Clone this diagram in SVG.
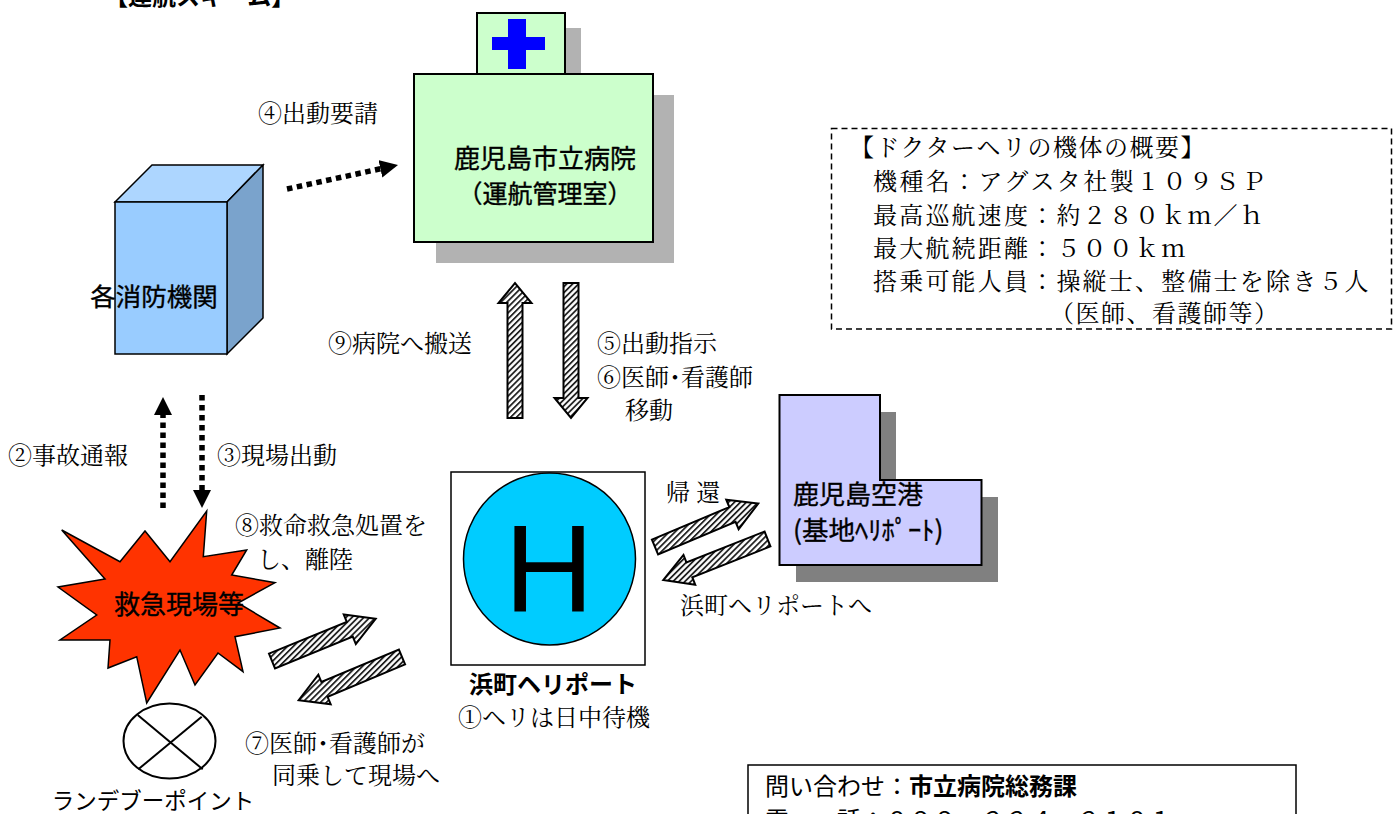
<svg xmlns="http://www.w3.org/2000/svg" width="1399" height="814" viewBox="0 0 1399 814">
  <style>
    .min { font-family: "Noto Serif CJK JP", "IPAMincho", "Noto Sans CJK JP", serif; font-size: 24px; fill: #000; }
    .goth { font-family: "Noto Sans CJK JP", "Noto Sans", sans-serif; fill: #000; }
    .bold { font-weight: 700; }
    .med { stroke: #000; stroke-width: 0.35; }
    .edge { stroke: #000; stroke-width: 2; }
    .thin { stroke: #000; stroke-width: 1.5; }
    .dots { fill: none; stroke: #000; stroke-width: 5.5; stroke-dasharray: 5.5 4.5; }
    .hatch { fill: url(#hatch); stroke: #000; stroke-width: 2; stroke-linejoin: miter; }
  </style>
  <defs>
    <pattern id="hatch" patternUnits="userSpaceOnUse" width="4.2" height="4.2" patternTransform="rotate(45)">
      <rect width="4.2" height="4.2" fill="#fff"/>
      <rect width="1.8" height="4.2" fill="#222"/>
    </pattern>
    <marker id="dotHead" markerUnits="userSpaceOnUse" markerWidth="18" markerHeight="18" refX="0" refY="9" orient="auto">
      <path d="M0,0 L18,9 L0,18 Z" fill="#000"/>
    </marker>
  </defs>

  <rect width="1399" height="814" fill="#fff"/>

  <!-- page title, clipped by the top edge -->
  <text class="goth bold" x="104" y="5" font-size="24">【運航スキーム】</text>

  <!-- hospital (operations office) -->
  <g id="hospital">
    <rect x="492" y="28" width="89" height="61" fill="#B2B2B2"/>
    <rect x="436" y="95" width="238" height="168" fill="#B2B2B2"/>
    <rect x="477" y="13" width="88" height="61" fill="#CCFFCC" class="edge"/>
    <rect x="508" y="19" width="18" height="50" fill="#0000FF"/>
    <rect x="492" y="37" width="53" height="13" fill="#0000FF"/>
    <rect x="414" y="74" width="239" height="168" fill="#CCFFCC" class="edge"/>
    <text class="goth med" x="545" y="168" font-size="26" text-anchor="middle">鹿児島市立病院</text>
    <text class="goth med" x="545" y="203" font-size="25" text-anchor="middle">（運航管理室）</text>
  </g>

  <!-- fire departments -->
  <g id="fire-dept">
    <polygon points="115,202 152,165 263,165 227,202" fill="#ADD6FF" class="thin"/>
    <polygon points="227,202 263,165 263,318 227,354" fill="#7AA3CC" class="thin"/>
    <rect x="115" y="202" width="112" height="152" fill="#99CCFF" class="thin"/>
    <text class="goth med" x="154" y="306" font-size="25.5" text-anchor="middle">各消防機関</text>
  </g>

  <!-- aircraft spec box -->
  <g id="spec-box">
    <rect x="831.5" y="128.5" width="560" height="200.5" fill="none" stroke="#000" stroke-width="1.5" stroke-dasharray="6 4"/>
    <text class="min" x="850" y="156" letter-spacing="1.5">【ドクターヘリの機体の概要】</text>
    <text class="min" x="873" y="190" letter-spacing="2.4">機種名：アグスタ社製１０９ＳＰ</text>
    <text class="min" x="873" y="224" letter-spacing="2.2">最高巡航速度：約２８０ｋｍ／ｈ</text>
    <text class="min" x="873" y="257" letter-spacing="2.2">最大航続距離：５００ｋｍ</text>
    <text class="min" x="873" y="290" letter-spacing="2.2">搭乗可能人員：操縦士、整備士を除き５人</text>
    <text class="min" x="1050" y="322" letter-spacing="1.5">（医師、看護師等）</text>
  </g>

  <!-- emergency site -->
  <g id="scene">
    <polygon points="206.7,511 203.3,556.7 246.7,550 231.7,575 275,582.7 238,603 280,628 235,636.7 243,671.7 218,653 195,685 180,650 146.7,703 136.7,656.7 108,668 110,640 60,640 96.7,615 58,587 105,579 61.7,530 120,561.7 145,531 170,561.7" fill="#FF3300" class="thin"/>
    <text class="goth med" x="179" y="614" font-size="26" text-anchor="middle">救急現場等</text>
  </g>

  <!-- rendezvous point -->
  <g id="rendezvous">
    <ellipse cx="169.5" cy="741" rx="46" ry="37.5" fill="#fff" class="edge"/>
    <line x1="137.7" y1="715" x2="202.7" y2="769.3" class="edge"/>
    <line x1="201.7" y1="716.7" x2="138.3" y2="769.3" class="edge"/>
    <text class="goth" x="153" y="809" font-size="22.5" text-anchor="middle">ランデブーポイント</text>
  </g>

  <!-- Hamamachi heliport -->
  <g id="heliport">
    <rect x="451" y="472" width="194" height="193" fill="#fff" class="thin"/>
    <circle cx="549.5" cy="559" r="86" fill="#00CCFF" class="thin"/>
    <text x="549" y="612" font-family="Liberation Sans, Arial, sans-serif" font-size="124" text-anchor="middle" fill="#000">H</text>
    <text class="goth bold" x="553" y="693" font-size="24" text-anchor="middle">浜町ヘリポート</text>
    <text class="min" x="458" y="726">①ヘリは日中待機</text>
  </g>

  <!-- Kagoshima airport (base heliport) -->
  <g id="airport">
    <polygon points="796,412 896,412 896,497 998,497 998,582 796,582" fill="#808080"/>
    <polygon points="779.5,395 880,395 880,480 981.5,480 981.5,565 779.5,565" fill="#CCCCFF" class="edge"/>
    <text class="goth med" x="793" y="504" font-size="26">鹿児島空港</text>
    <text class="goth med" x="793" y="540" font-size="26.5">(基地ﾍﾘﾎﾟｰﾄ)</text>
  </g>

  <!-- contact box -->
  <g id="contact">
    <rect x="748" y="765" width="548" height="100" fill="#fff" class="thin"/>
    <text class="goth" x="765" y="795" font-size="24">問い合わせ：<tspan class="bold">市立病院総務課</tspan></text>
    <text class="goth" x="765" y="829" font-size="24">電　　話：０９９－２２４－２１０１</text>
  </g>

  <!-- connectors -->
  <g id="connectors">
    <!-- dotted request / report lines -->
    <line x1="287" y1="189" x2="380.4" y2="168.8" class="dots" marker-end="url(#dotHead)"/>
    <line x1="163" y1="508" x2="163" y2="415" class="dots" marker-end="url(#dotHead)"/>
    <line x1="202" y1="395" x2="202" y2="490" class="dots" marker-end="url(#dotHead)"/>

    <!-- hatched transfer arrows -->
    <path class="hatch" d="M507.5,418 V303 H498.5 L515,283 L531.5,303 H522.5 V418 Z"/>
    <path class="hatch" d="M563.5,283 V398 H554.5 L571,418 L587.5,398 H578.5 V283 Z"/>
    <polygon class="hatch" points="268.98,653.59 346.76,621.85 343.74,614.45 375.70,618.69 355.82,644.07 352.80,636.67 275.02,668.41"/>
    <polygon class="hatch" points="405.09,664.38 327.60,696.80 330.68,704.18 298.68,700.22 318.34,674.66 321.42,682.04 398.91,649.62"/>
    <polygon class="hatch" points="651.90,539.62 729.34,507.07 726.24,499.70 758.25,503.60 738.64,529.20 735.54,521.83 658.10,554.38"/>
    <polygon class="hatch" points="770.43,546.44 692.28,577.23 695.21,584.68 663.30,580.05 683.49,554.90 686.42,562.35 764.57,531.56"/>

    <!-- connector labels -->
    <text class="min" x="258" y="122">④出動要請</text>
    <text class="min" x="328" y="352">⑨病院へ搬送</text>
    <text class="min" x="597" y="352">⑤出動指示</text>
    <text class="min" x="597" y="386">⑥医師･看護師</text>
    <text class="min" x="625" y="419">移動</text>
    <text class="min" x="8" y="464">②事故通報</text>
    <text class="min" x="217" y="464">③現場出動</text>
    <text class="min" x="235" y="534">⑧救命救急処置を</text>
    <text class="min" x="257" y="568">し、離陸</text>
    <text class="min" x="245" y="752">⑦医師･看護師が</text>
    <text class="min" x="272" y="784">同乗して現場へ</text>
    <text class="min" x="666" y="501">帰 還</text>
    <text class="min" x="680" y="614" font-size="22">浜町ヘリポートへ</text>
  </g>
</svg>
